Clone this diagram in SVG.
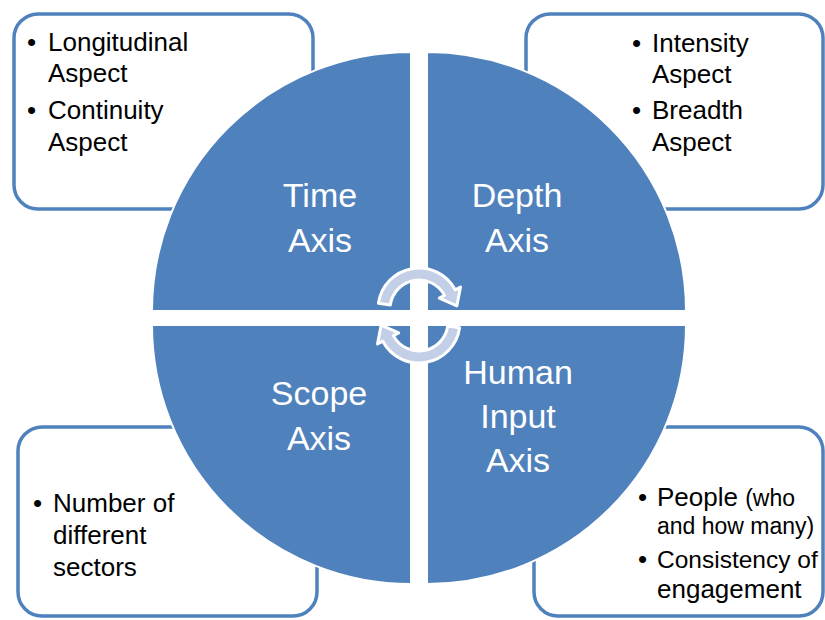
<svg xmlns="http://www.w3.org/2000/svg" width="825" height="620" viewBox="0 0 825 620">
  <style>
    .box { fill: #FFFFFF; stroke: #4F81BD; stroke-width: 3.5; }
    .quad { fill: #4F81BD; stroke: #FFFFFF; stroke-width: 2; }
    .btxt { font-family: "Liberation Sans", Arial, sans-serif; font-size: 26px; fill: #000000; }
    .small { font-size: 23px; }
    .ctxt { font-family: "Liberation Sans", Arial, sans-serif; font-size: 34px; fill: #FFFFFF; text-anchor: middle; }
    .arr { fill: #C3CFE6; stroke: #FFFFFF; stroke-width: 3; stroke-linejoin: round; }
  </style>
  <rect width="825" height="620" fill="#FFFFFF"/>

  <g id="box-time">
    <rect class="box" x="14" y="14" width="299" height="195" rx="24"/>
    <text class="btxt" x="27" y="51">•</text>
    <text class="btxt" x="48" y="51">Longitudinal</text>
    <text class="btxt" x="48" y="82">Aspect</text>
    <text class="btxt" x="27" y="119">•</text>
    <text class="btxt" x="48" y="119">Continuity</text>
    <text class="btxt" x="48" y="151">Aspect</text>
  </g>

  <g id="box-depth">
    <rect class="box" x="526" y="14" width="297" height="195" rx="24"/>
    <text class="btxt" x="632" y="52">•</text>
    <text class="btxt" x="652" y="52">Intensity</text>
    <text class="btxt" x="652" y="83">Aspect</text>
    <text class="btxt" x="632" y="119">•</text>
    <text class="btxt" x="652" y="119">Breadth</text>
    <text class="btxt" x="652" y="151">Aspect</text>
  </g>

  <g id="box-scope">
    <rect class="box" x="18" y="427" width="299" height="189" rx="24"/>
    <text class="btxt" x="33" y="512">•</text>
    <text class="btxt" x="53" y="512">Number of</text>
    <text class="btxt" x="53" y="544">different</text>
    <text class="btxt" x="53" y="576">sectors</text>
  </g>

  <g id="box-human">
    <rect class="box" x="534" y="427" width="289" height="189" rx="24"/>
    <text class="btxt" x="638" y="506">•</text>
    <text class="btxt" x="657" y="506">People <tspan class="small">(who</tspan></text>
    <text class="btxt small" x="657" y="534">and how many)</text>
    <text class="btxt" x="638" y="568">•</text>
    <text class="btxt" x="657" y="568" style="font-size:24.5px">Consistency of</text>
    <text class="btxt" x="657" y="598">engagement</text>
  </g>

  <g id="quad-time">
    <path class="quad" d="M411,311 L152,311 A259,259 0 0 1 411,52 Z"/>
    <text class="ctxt" x="320" y="207">Time</text>
    <text class="ctxt" x="320" y="252">Axis</text>
  </g>
  <g id="quad-depth">
    <path class="quad" d="M427,311 L427,52 A259,259 0 0 1 686,311 Z"/>
    <text class="ctxt" x="517" y="207">Depth</text>
    <text class="ctxt" x="517" y="252">Axis</text>
  </g>
  <g id="quad-scope">
    <path class="quad" d="M411,325 L411,584 A259,259 0 0 1 152,325 Z"/>
    <text class="ctxt" x="319" y="405">Scope</text>
    <text class="ctxt" x="319" y="450">Axis</text>
  </g>
  <g id="quad-human">
    <path class="quad" d="M427,325 L686,325 A259,259 0 0 1 427,584 Z"/>
    <text class="ctxt" x="518" y="384">Human</text>
    <text class="ctxt" x="518" y="428">Input</text>
    <text class="ctxt" x="518" y="472">Axis</text>
  </g>

  <g id="connectors">
    <path class="arr" d="M378.4,303.3 A41,41 0 0 1 455.2,289.8 L460.5,287 L456.9,305.8 L439.3,298.2 L444.6,295.4 A29,29 0 0 0 390.3,305 Z"/>
    <path class="arr" d="M459.6,327.7 A41,41 0 0 1 382.8,341.2 L377.5,344 L381.1,325.2 L398.7,332.8 L393.4,335.6 A29,29 0 0 0 447.7,326 Z"/>
  </g>
</svg>
